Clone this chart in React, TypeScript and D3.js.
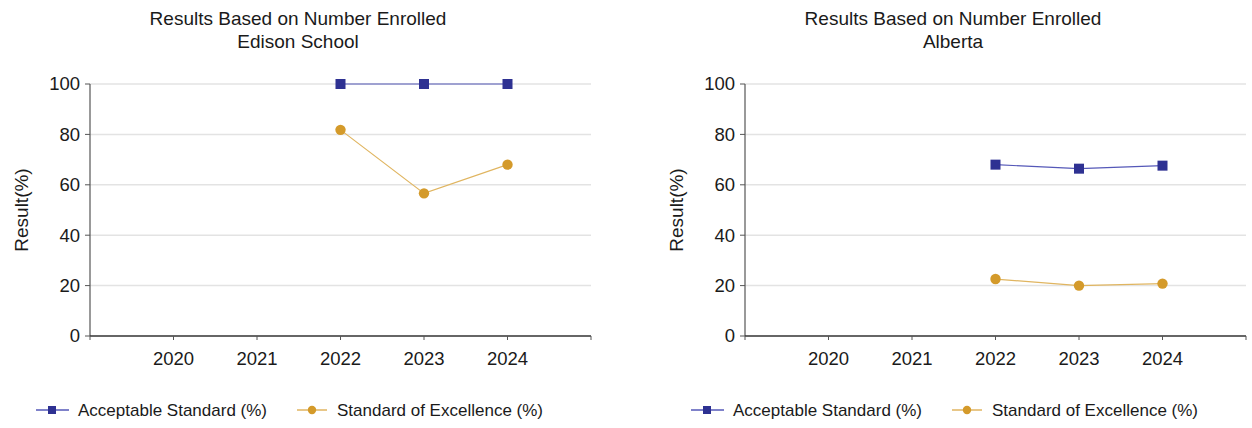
import React from "react";
import * as d3 from "d3";

const years = [2020, 2021, 2022, 2023, 2024];
const yTicks = [0, 20, 40, 60, 80, 100];
const panelTitles = ["Edison School", "Alberta"];
const mainTitle = "Results Based on Number Enrolled";
const seriesNames = ["Acceptable Standard (%)", "Standard of Excellence (%)"];
const edisonAcceptable: (number | null)[] = [null, null, 100, 100, 100];
const edisonExcellence: (number | null)[] = [null, null, 81.8, 56.6, 68.0];
const albertaAcceptable: (number | null)[] = [null, null, 68.0, 66.4, 67.6];
const albertaExcellence: (number | null)[] = [null, null, 22.6, 20.0, 20.8];

const BLUE = "#2e3192";
const BLUE_LINE = "#5558b8";
const GOLD = "#d49a2a";
const GOLD_LINE = "#e0b560";
const FONT = "Arial, 'Liberation Sans', Helvetica, sans-serif";

function Panel({ ox, title, acc, exc }: { ox: number; title: string; acc: (number | null)[]; exc: (number | null)[] }) {
  const x0 = ox + 90;
  const x1 = ox + 591;
  const yTop = 84;
  const yBot = 336;
  const x = d3.scaleLinear().domain([2019, 2025]).range([x0, x1]);
  const y = d3.scaleLinear().domain([0, 100]).range([yBot, yTop]);
  const line = d3
    .line<[number, number | null]>()
    .defined((d) => d[1] != null)
    .x((d) => x(d[0]))
    .y((d) => y(d[1] as number));
  const accPts = years.map((yr, i) => [yr, acc[i]] as [number, number | null]);
  const excPts = years.map((yr, i) => [yr, exc[i]] as [number, number | null]);
  const cx = ox + 298;
  return (
    <g fontFamily={FONT} fill="#1a1a1a">
      <text x={cx} y={25} textAnchor="middle" fontSize={19}>{mainTitle}</text>
      <text x={cx} y={48} textAnchor="middle" fontSize={19}>{title}</text>
      {yTicks.map((t) => (
        <g key={t}>
          {t > 0 && <line x1={x0} x2={x1} y1={y(t)} y2={y(t)} stroke="#e3e3e3" strokeWidth={1.5} />}
          <line x1={x0 - 5} x2={x0} y1={y(t)} y2={y(t)} stroke="#555" strokeWidth={1} />
          <text x={x0 - 10} y={y(t)} dy="0.35em" textAnchor="end" fontSize={18.5}>{t}</text>
        </g>
      ))}
      <line x1={x0} x2={x0} y1={yTop} y2={yBot} stroke="#555" strokeWidth={1.2} />
      <line x1={x0} x2={x1} y1={yBot} y2={yBot} stroke="#333" strokeWidth={1.5} />
      {[2019, ...years, 2025].map((yr) => (
        <line key={yr} x1={x(yr)} x2={x(yr)} y1={yBot} y2={yBot + 4} stroke="#555" strokeWidth={1} />
      ))}
      {years.map((yr) => (
        <text key={yr} x={x(yr)} y={365} textAnchor="middle" fontSize={18.5}>{yr}</text>
      ))}
      <text transform={`translate(${ox + 28},${(yTop + yBot) / 2}) rotate(-90)`} textAnchor="middle" fontSize={19}>Result(%)</text>
      <path d={line(accPts) || ""} fill="none" stroke={BLUE_LINE} strokeWidth={1.2} />
      <path d={line(excPts) || ""} fill="none" stroke={GOLD_LINE} strokeWidth={1.2} />
      {accPts.filter((d) => d[1] != null).map((d) => (
        <rect key={d[0]} x={x(d[0]) - 5} y={y(d[1] as number) - 5} width={10} height={10} fill={BLUE} />
      ))}
      {excPts.filter((d) => d[1] != null).map((d) => (
        <circle key={d[0]} cx={x(d[0])} cy={y(d[1] as number)} r={5.2} fill={GOLD} />
      ))}
      <g>
        <line x1={ox + 36} x2={ox + 69} y1={410} y2={410} stroke={BLUE_LINE} strokeWidth={1.5} />
        <rect x={ox + 48} y={406} width={8} height={8} fill={BLUE} />
        <text x={ox + 78} y={410} dy="0.35em" fontSize={17}>{seriesNames[0]}</text>
        <line x1={ox + 297} x2={ox + 327} y1={410} y2={410} stroke={GOLD_LINE} strokeWidth={1.5} />
        <circle cx={ox + 312} cy={410} r={4.2} fill={GOLD} />
        <text x={ox + 337} y={410} dy="0.35em" fontSize={17}>{seriesNames[1]}</text>
      </g>
    </g>
  );
}

export default function App() {
  return (
    <svg width={1252} height={428} style={{ position: "absolute", left: 0, top: 0, background: "#fff" }}>
      <rect width={1252} height={428} fill="#fff" />
      <Panel ox={0} title={panelTitles[0]} acc={edisonAcceptable} exc={edisonExcellence} />
      <Panel ox={655} title={panelTitles[1]} acc={albertaAcceptable} exc={albertaExcellence} />
    </svg>
  );
}
